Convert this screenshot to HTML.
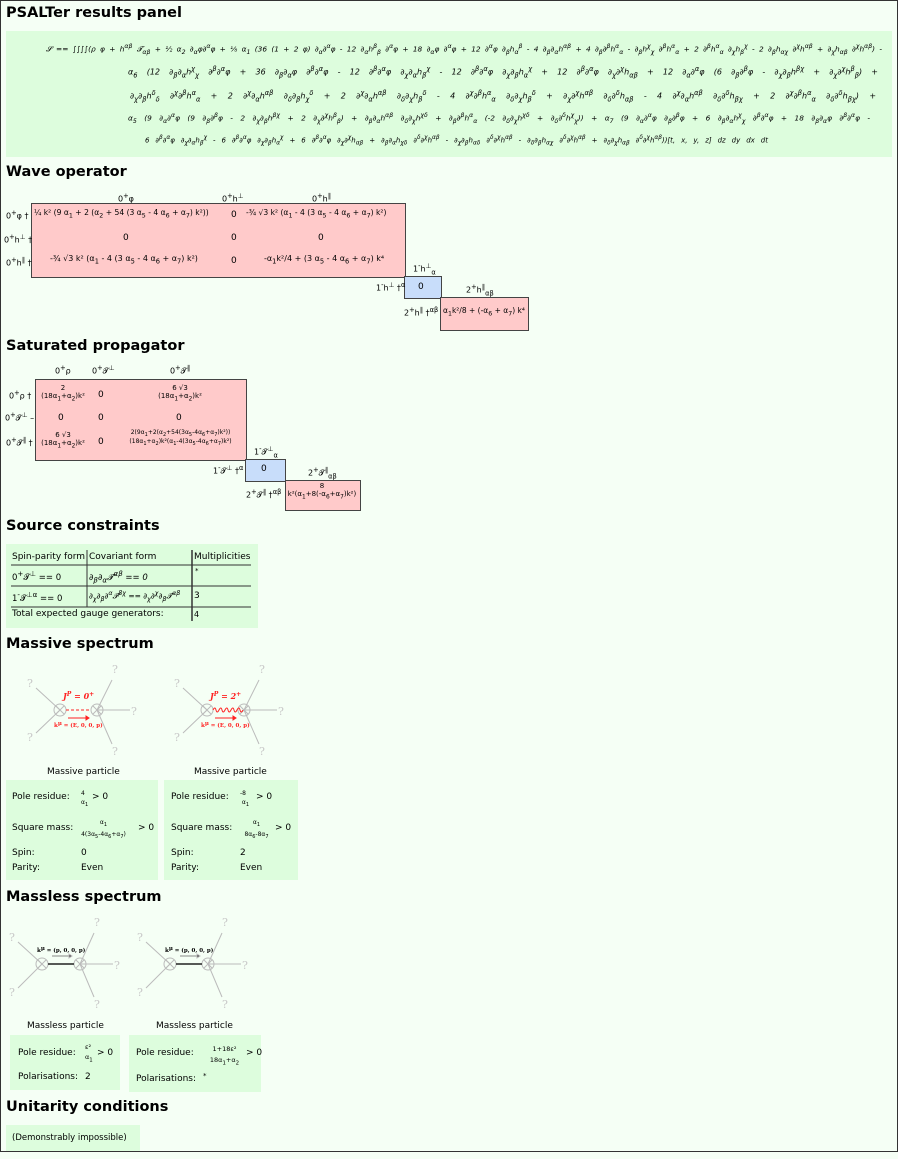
<!DOCTYPE html>
<html><head><meta charset="utf-8"><style>
body{margin:0;width:898px;height:1159px;background:#f5fff5;font-family:"DejaVu Sans","Liberation Sans",sans-serif;position:relative;overflow:hidden;color:#000}
.frame{position:absolute;left:0;top:0;width:896px;height:1150px;border:1px solid #333}
.h{position:absolute;left:6px;font-weight:bold;font-size:14.5px}
.g{position:absolute;background:#ddfddd}
.ab{position:absolute;white-space:nowrap}
.ln{position:absolute;font-size:8px;font-style:italic;text-align:justify;text-align-last:justify;height:14px;line-height:14px}
.pk{position:absolute;background:#ffcaca;border:1px solid #444}
.bl{position:absolute;background:#c8ddfa;border:1px solid #444}
.s{font-size:8px}
</style></head><body>
<div class="frame"></div>
<div class="h" style="top:5px">PSALTer results panel</div>
<div class="g" style="left:6px;top:31px;width:886px;height:126px"></div>
<div class="ln" style="left:46px;top:40px;width:836px;font-size:7.4px">𝓢 == ∫∫∫∫(ρ φ + h<sup>αβ</sup> 𝓣<sub>αβ</sub> + ½ α<sub>2</sub> ∂<sub>α</sub>φ∂<sup>α</sup>φ + ⅛ α<sub>1</sub> (36 (1 + 2 φ) ∂<sub>α</sub>∂<sup>α</sup>φ - 12 ∂<sub>α</sub>h<sup>β</sup><sub>β</sub> ∂<sup>α</sup>φ + 18 ∂<sub>α</sub>φ ∂<sup>α</sup>φ + 12 ∂<sup>α</sup>φ ∂<sub>β</sub>h<sub>α</sub><sup>β</sup> - 4 ∂<sub>β</sub>∂<sub>α</sub>h<sup>αβ</sup> + 4 ∂<sub>β</sub>∂<sup>β</sup>h<sup>α</sup><sub>α</sub> - ∂<sub>β</sub>h<sup>χ</sup><sub>χ</sub> ∂<sup>β</sup>h<sup>α</sup><sub>α</sub> + 2 ∂<sup>β</sup>h<sup>α</sup><sub>α</sub> ∂<sub>χ</sub>h<sub>β</sub><sup>χ</sup> - 2 ∂<sub>β</sub>h<sub>αχ</sub> ∂<sup>χ</sup>h<sup>αβ</sup> + ∂<sub>χ</sub>h<sub>αβ</sub> ∂<sup>χ</sup>h<sup>αβ</sup>) -</div>
<div class="ln" style="left:128px;top:62px;width:750px">α<sub>6</sub> (12 ∂<sub>β</sub>∂<sub>α</sub>h<sup>χ</sup><sub>χ</sub> ∂<sup>β</sup>∂<sup>α</sup>φ + 36 ∂<sub>β</sub>∂<sub>α</sub>φ ∂<sup>β</sup>∂<sup>α</sup>φ - 12 ∂<sup>β</sup>∂<sup>α</sup>φ ∂<sub>χ</sub>∂<sub>α</sub>h<sub>β</sub><sup>χ</sup> - 12 ∂<sup>β</sup>∂<sup>α</sup>φ ∂<sub>χ</sub>∂<sub>β</sub>h<sub>α</sub><sup>χ</sup> + 12 ∂<sup>β</sup>∂<sup>α</sup>φ ∂<sub>χ</sub>∂<sup>χ</sup>h<sub>αβ</sub> + 12 ∂<sub>α</sub>∂<sup>α</sup>φ (6 ∂<sub>β</sub>∂<sup>β</sup>φ - ∂<sub>χ</sub>∂<sub>β</sub>h<sup>βχ</sup> + ∂<sub>χ</sub>∂<sup>χ</sup>h<sup>β</sup><sub>β</sub>) +</div>
<div class="ln" style="left:130px;top:86px;width:746px">∂<sub>χ</sub>∂<sub>β</sub>h<sup>δ</sup><sub>δ</sub> ∂<sup>χ</sup>∂<sup>β</sup>h<sup>α</sup><sub>α</sub> + 2 ∂<sup>χ</sup>∂<sub>α</sub>h<sup>αβ</sup> ∂<sub>δ</sub>∂<sub>β</sub>h<sub>χ</sub><sup>δ</sup> + 2 ∂<sup>χ</sup>∂<sub>α</sub>h<sup>αβ</sup> ∂<sub>δ</sub>∂<sub>χ</sub>h<sub>β</sub><sup>δ</sup> - 4 ∂<sup>χ</sup>∂<sup>β</sup>h<sup>α</sup><sub>α</sub> ∂<sub>δ</sub>∂<sub>χ</sub>h<sub>β</sub><sup>δ</sup> + ∂<sub>χ</sub>∂<sup>χ</sup>h<sup>αβ</sup> ∂<sub>δ</sub>∂<sup>δ</sup>h<sub>αβ</sub> - 4 ∂<sup>χ</sup>∂<sub>α</sub>h<sup>αβ</sup> ∂<sub>δ</sub>∂<sup>δ</sup>h<sub>βχ</sub> + 2 ∂<sup>χ</sup>∂<sup>β</sup>h<sup>α</sup><sub>α</sub> ∂<sub>δ</sub>∂<sup>δ</sup>h<sub>βχ</sub>) +</div>
<div class="ln" style="left:128px;top:109px;width:742px;font-size:7.4px">α<sub>5</sub> (9 ∂<sub>α</sub>∂<sup>α</sup>φ (9 ∂<sub>β</sub>∂<sup>β</sup>φ - 2 ∂<sub>χ</sub>∂<sub>β</sub>h<sup>βχ</sup> + 2 ∂<sub>χ</sub>∂<sup>χ</sup>h<sup>β</sup><sub>β</sub>) + ∂<sub>β</sub>∂<sub>α</sub>h<sup>αβ</sup> ∂<sub>δ</sub>∂<sub>χ</sub>h<sup>χδ</sup> + ∂<sub>β</sub>∂<sup>β</sup>h<sup>α</sup><sub>α</sub> (-2 ∂<sub>δ</sub>∂<sub>χ</sub>h<sup>χδ</sup> + ∂<sub>δ</sub>∂<sup>δ</sup>h<sup>χ</sup><sub>χ</sub>)) + α<sub>7</sub> (9 ∂<sub>α</sub>∂<sup>α</sup>φ ∂<sub>β</sub>∂<sup>β</sup>φ + 6 ∂<sub>β</sub>∂<sub>α</sub>h<sup>χ</sup><sub>χ</sub> ∂<sup>β</sup>∂<sup>α</sup>φ + 18 ∂<sub>β</sub>∂<sub>α</sub>φ ∂<sup>β</sup>∂<sup>α</sup>φ -</div>
<div class="ln" style="left:145px;top:131px;width:623px;font-size:7px">6 ∂<sup>β</sup>∂<sup>α</sup>φ ∂<sub>χ</sub>∂<sub>α</sub>h<sub>β</sub><sup>χ</sup> - 6 ∂<sup>β</sup>∂<sup>α</sup>φ ∂<sub>χ</sub>∂<sub>β</sub>h<sub>α</sub><sup>χ</sup> + 6 ∂<sup>β</sup>∂<sup>α</sup>φ ∂<sub>χ</sub>∂<sup>χ</sup>h<sub>αβ</sub> + ∂<sub>β</sub>∂<sub>α</sub>h<sub>χδ</sub> ∂<sup>δ</sup>∂<sup>χ</sup>h<sup>αβ</sup> - ∂<sub>χ</sub>∂<sub>β</sub>h<sub>αδ</sub> ∂<sup>δ</sup>∂<sup>χ</sup>h<sup>αβ</sup> - ∂<sub>δ</sub>∂<sub>β</sub>h<sub>αχ</sub> ∂<sup>δ</sup>∂<sup>χ</sup>h<sup>αβ</sup> + ∂<sub>δ</sub>∂<sub>χ</sub>h<sub>αβ</sub> ∂<sup>δ</sup>∂<sup>χ</sup>h<sup>αβ</sup>))[t, x, y, z] dz dy dx dt</div>

<div class="h" style="top:164px">Wave operator</div>
<div class="pk" style="left:31px;top:203px;width:373px;height:73px"></div>
<div class="bl" style="left:404px;top:276px;width:36px;height:21px"></div>
<div class="pk" style="left:440px;top:297px;width:87px;height:32px"></div>
<div class="ab s" style="left:118px;top:192px">0<sup>+</sup>φ</div>
<div class="ab s" style="left:222px;top:192px">0<sup>+</sup>h<sup>⊥</sup></div>
<div class="ab s" style="left:312px;top:192px">0<sup>+</sup>h<sup>∥</sup></div>
<div class="ab s" style="left:6px;top:209px">0<sup>+</sup>φ †</div>
<div class="ab s" style="left:4px;top:233px">0<sup>+</sup>h<sup>⊥</sup> †</div>
<div class="ab s" style="left:6px;top:256px">0<sup>+</sup>h<sup>∥</sup> †</div>
<div class="ab" style="left:34px;top:208px;font-size:7.6px">¼ k² (9 α<sub>1</sub> + 2 (α<sub>2</sub> + 54 (3 α<sub>5</sub> - 4 α<sub>6</sub> + α<sub>7</sub>) k²))</div>
<div class="ab" style="left:231px;top:210px;font-size:9px">0</div>
<div class="ab" style="left:246px;top:208px;font-size:7.6px">-¾ √3 k² (α<sub>1</sub> - 4 (3 α<sub>5</sub> - 4 α<sub>6</sub> + α<sub>7</sub>) k²)</div>
<div class="ab" style="left:123px;top:233px;font-size:9px">0</div>
<div class="ab" style="left:231px;top:233px;font-size:9px">0</div>
<div class="ab" style="left:318px;top:233px;font-size:9px">0</div>
<div class="ab" style="left:50px;top:254px;font-size:8px">-¾ √3 k² (α<sub>1</sub> - 4 (3 α<sub>5</sub> - 4 α<sub>6</sub> + α<sub>7</sub>) k²)</div>
<div class="ab" style="left:231px;top:256px;font-size:9px">0</div>
<div class="ab" style="left:264px;top:254px;font-size:8px">-α<sub>1</sub>k²/4 + (3 α<sub>5</sub> - 4 α<sub>6</sub> + α<sub>7</sub>) k⁴</div>
<div class="ab s" style="left:413px;top:262px">1<sup>-</sup>h<sup>⊥</sup><sub>α</sub></div>
<div class="ab s" style="left:376px;top:281px">1<sup>-</sup>h<sup>⊥</sup> †<sup>α</sup></div>
<div class="ab" style="left:418px;top:282px;font-size:9px">0</div>
<div class="ab s" style="left:466px;top:283px">2<sup>+</sup>h<sup>∥</sup><sub>αβ</sub></div>
<div class="ab s" style="left:404px;top:306px">2<sup>+</sup>h<sup>∥</sup> †<sup>αβ</sup></div>
<div class="ab" style="left:443px;top:306px;font-size:7.5px">α<sub>1</sub>k²/8 + (-α<sub>6</sub> + α<sub>7</sub>) k⁴</div>

<div class="h" style="top:338px">Saturated propagator</div>
<div class="pk" style="left:35px;top:379px;width:210px;height:80px"></div>
<div class="bl" style="left:245px;top:459px;width:39px;height:21px"></div>
<div class="pk" style="left:285px;top:480px;width:74px;height:29px"></div>
<div class="ab s" style="left:55px;top:364px">0<sup>+</sup>ρ</div>
<div class="ab s" style="left:92px;top:364px">0<sup>+</sup>𝓣<sup>⊥</sup></div>
<div class="ab s" style="left:170px;top:364px">0<sup>+</sup>𝓣<sup>∥</sup></div>
<div class="ab s" style="left:9px;top:389px">0<sup>+</sup>ρ †</div>
<div class="ab s" style="left:5px;top:411px">0<sup>+</sup>𝓣<sup>⊥</sup> –</div>
<div class="ab s" style="left:6px;top:436px">0<sup>+</sup>𝓣<sup>∥</sup> †</div>
<div class="ab" style="left:40px;top:384px;font-size:7px;text-align:center;width:46px">2<br>(18α<sub>1</sub>+α<sub>2</sub>)k²</div>
<div class="ab" style="left:98px;top:390px;font-size:9px">0</div>
<div class="ab" style="left:155px;top:384px;font-size:7px;text-align:center;width:50px">6 √3<br>(18α<sub>1</sub>+α<sub>2</sub>)k²</div>
<div class="ab" style="left:58px;top:413px;font-size:9px">0</div>
<div class="ab" style="left:98px;top:413px;font-size:9px">0</div>
<div class="ab" style="left:176px;top:413px;font-size:9px">0</div>
<div class="ab" style="left:38px;top:431px;font-size:7px;text-align:center;width:50px">6 √3<br>(18α<sub>1</sub>+α<sub>2</sub>)k²</div>
<div class="ab" style="left:98px;top:437px;font-size:9px">0</div>
<div class="ab" style="left:118px;top:429px;font-size:6px;text-align:center;width:125px">2(9α<sub>1</sub>+2(α<sub>2</sub>+54(3α<sub>5</sub>-4α<sub>6</sub>+α<sub>7</sub>)k²))<br>(18α<sub>1</sub>+α<sub>2</sub>)k²(α<sub>1</sub>-4(3α<sub>5</sub>-4α<sub>6</sub>+α<sub>7</sub>)k²)</div>
<div class="ab s" style="left:254px;top:445px">1<sup>-</sup>𝓣<sup>⊥</sup><sub>α</sub></div>
<div class="ab s" style="left:213px;top:464px">1<sup>-</sup>𝓣<sup>⊥</sup> †<sup>α</sup></div>
<div class="ab" style="left:261px;top:464px;font-size:9px">0</div>
<div class="ab s" style="left:308px;top:466px">2<sup>+</sup>𝓣<sup>∥</sup><sub>αβ</sub></div>
<div class="ab s" style="left:246px;top:488px">2<sup>+</sup>𝓣<sup>∥</sup> †<sup>αβ</sup></div>
<div class="ab" style="left:286px;top:482px;font-size:7px;text-align:center;width:72px">8<br>k²(α<sub>1</sub>+8(-α<sub>6</sub>+α<sub>7</sub>)k²)</div>

<div class="h" style="top:518px">Source constraints</div>
<div class="g" style="left:6px;top:544px;width:252px;height:84px"></div>
<svg class="ab" style="left:0;top:0" width="898" height="1159">
<g stroke="#333" fill="none">
<line x1="11" y1="565" x2="251" y2="565"/><line x1="11" y1="586" x2="251" y2="586"/><line x1="11" y1="607" x2="251" y2="607"/>
<line x1="87" y1="550" x2="87" y2="607"/><line x1="192" y1="550" x2="192" y2="621" stroke-width="1.5"/>
<line x1="11" y1="815" x2="154" y2="815"/><line x1="11" y1="846" x2="154" y2="846"/><line x1="11" y1="861" x2="154" y2="861"/><line x1="78" y1="789" x2="78" y2="876"/>
<line x1="170" y1="815" x2="288" y2="815"/><line x1="170" y1="846" x2="288" y2="846"/><line x1="170" y1="861" x2="288" y2="861"/><line x1="238" y1="789" x2="238" y2="876"/>
<line x1="17" y1="1070" x2="112" y2="1070"/><line x1="82" y1="1042" x2="82" y2="1085"/>
<line x1="135" y1="1072" x2="254" y2="1072"/><line x1="200" y1="1043" x2="200" y2="1087"/>
</g>
<g>
<line x1="80" y1="804" x2="88" y2="804" stroke="#000" stroke-width=".6"/>
<line x1="80" y1="828" x2="126" y2="828" stroke="#000" stroke-width=".6"/>
<line x1="244" y1="804" x2="252" y2="804" stroke="#000" stroke-width=".6"/>
<line x1="240" y1="828" x2="272" y2="828" stroke="#000" stroke-width=".6"/>
<line x1="84" y1="1052" x2="94" y2="1052" stroke="#000" stroke-width=".6"/>
<line x1="203" y1="1054" x2="246" y2="1054" stroke="#000" stroke-width=".6"/>
</g>
<g stroke="#bbb" stroke-width="1" fill="none">
<line x1="60" y1="710" x2="36" y2="688"/><line x1="60" y1="710" x2="36" y2="733"/>
<line x1="97" y1="710" x2="112" y2="680"/><line x1="97" y1="710" x2="130" y2="710"/><line x1="97" y1="710" x2="112" y2="744"/>
<circle cx="60" cy="710" r="6"/><circle cx="97" cy="710" r="6"/>
<path d="M56 706l8 8M64 706l-8 8M93 706l8 8M101 706l-8 8"/>
<line x1="66" y1="710" x2="91" y2="710" stroke="#f22" stroke-dasharray="3,2"/>
<line x1="68" y1="718" x2="86" y2="718" stroke="#f22"/><path d="M86 716l3 2-3 2z" fill="#f22" stroke="#f22"/>
</g>
<g stroke="#bbb" stroke-width="1" fill="none">
<line x1="207" y1="710" x2="183" y2="688"/><line x1="207" y1="710" x2="183" y2="733"/>
<line x1="244" y1="710" x2="259" y2="680"/><line x1="244" y1="710" x2="277" y2="710"/><line x1="244" y1="710" x2="259" y2="744"/>
<circle cx="207" cy="710" r="6"/><circle cx="244" cy="710" r="6"/>
<path d="M203 706l8 8M211 706l-8 8M240 706l8 8M248 706l-8 8"/>
<path d="M213 710 q2 -4 3 0 t3 0 t3 0 t3 0 t3 0 t3 0 t3 0 t3 0 t3 0 t3 0" stroke="#f22"/>
<line x1="215" y1="718" x2="233" y2="718" stroke="#f22"/><path d="M233 716l3 2-3 2z" fill="#f22" stroke="#f22"/>
</g>
<g fill="#c8c8c8" font-size="11" font-family="DejaVu Serif">
<text x="27" y="687">?</text><text x="27" y="741">?</text><text x="112" y="673">?</text><text x="131" y="715">?</text><text x="112" y="755">?</text>
<text x="174" y="687">?</text><text x="174" y="741">?</text><text x="259" y="673">?</text><text x="278" y="715">?</text><text x="259" y="755">?</text>
</g>
<g fill="#f22" font-weight="bold" font-family="DejaVu Serif">
<text x="63" y="699" font-size="8" font-style="italic">J<tspan dy="-3" font-size="6">P</tspan><tspan dy="3"> = 0</tspan><tspan dy="-3" font-size="6">+</tspan></text>
<text x="54" y="727" font-size="5.5">k<tspan dy="-2">μ</tspan><tspan dy="2"> = (E, 0, 0, p)</tspan></text>
<text x="210" y="699" font-size="8" font-style="italic">J<tspan dy="-3" font-size="6">P</tspan><tspan dy="3"> = 2</tspan><tspan dy="-3" font-size="6">+</tspan></text>
<text x="201" y="727" font-size="5.5">k<tspan dy="-2">μ</tspan><tspan dy="2"> = (E, 0, 0, p)</tspan></text>
</g>
<g stroke="#bbb" fill="none">
<line x1="42" y1="964" x2="18" y2="942"/><line x1="42" y1="964" x2="18" y2="988"/>
<line x1="80" y1="964" x2="94" y2="933"/><line x1="80" y1="964" x2="113" y2="964"/><line x1="80" y1="964" x2="94" y2="997"/>
<circle cx="42" cy="964" r="6"/><circle cx="80" cy="964" r="6"/><path d="M38 960l8 8M46 960l-8 8M76 960l8 8M84 960l-8 8"/>
<line x1="48" y1="964" x2="74" y2="964" stroke="#222" stroke-width="1.5"/>
<line x1="52" y1="956" x2="69" y2="956" stroke="#888"/><path d="M69 954l3 2-3 2z" fill="#333"/>
<line x1="170" y1="964" x2="146" y2="942"/><line x1="170" y1="964" x2="146" y2="988"/>
<line x1="208" y1="964" x2="222" y2="933"/><line x1="208" y1="964" x2="241" y2="964"/><line x1="208" y1="964" x2="222" y2="997"/>
<circle cx="170" cy="964" r="6"/><circle cx="208" cy="964" r="6"/><path d="M166 960l8 8M174 960l-8 8M204 960l8 8M212 960l-8 8"/>
<line x1="176" y1="964" x2="202" y2="964" stroke="#222" stroke-width="1.5"/>
<line x1="180" y1="956" x2="197" y2="956" stroke="#888"/><path d="M197 954l3 2-3 2z" fill="#333"/>
</g>
<g fill="#c8c8c8" font-size="11" font-family="DejaVu Serif">
<text x="9" y="941">?</text><text x="9" y="996">?</text><text x="94" y="926">?</text><text x="114" y="969">?</text><text x="94" y="1008">?</text>
<text x="137" y="941">?</text><text x="137" y="996">?</text><text x="222" y="926">?</text><text x="242" y="969">?</text><text x="222" y="1008">?</text>
</g>
<g font-size="5.5" font-weight="bold" font-family="DejaVu Serif" fill="#000">
<text x="37" y="952">k<tspan dy="-2">μ</tspan><tspan dy="2"> = (p, 0, 0, p)</tspan></text>
<text x="165" y="952">k<tspan dy="-2">μ</tspan><tspan dy="2"> = (p, 0, 0, p)</tspan></text>
</g>
</svg>
<div class="ab" style="left:12px;top:552px;font-size:9px">Spin-parity form</div>
<div class="ab" style="left:89px;top:552px;font-size:9px">Covariant form</div>
<div class="ab" style="left:194px;top:552px;font-size:9px">Multiplicities</div>
<div class="ab" style="left:12px;top:569px;font-size:8.5px">0<sup>+</sup>𝓣<sup>⊥</sup> == 0</div>
<div class="ab" style="left:89px;top:569px;font-size:8.5px;font-style:italic">∂<sub>β</sub>∂<sub>α</sub>𝓣<sup>αβ</sup> == 0</div>
<div class="ab" style="left:195px;top:567px;font-size:7px">*</div>
<div class="ab" style="left:12px;top:590px;font-size:8.5px">1<sup>-</sup>𝓣<sup>⊥α</sup> == 0</div>
<div class="ab" style="left:89px;top:590px;font-size:7.5px;font-style:italic">∂<sub>χ</sub>∂<sub>β</sub>∂<sup>α</sup>𝓣<sup>βχ</sup> == ∂<sub>χ</sub>∂<sup>χ</sup>∂<sub>β</sub>𝓣<sup>αβ</sup></div>
<div class="ab" style="left:194px;top:591px;font-size:9px">3</div>
<div class="ab" style="left:12px;top:609px;font-size:9px">Total expected gauge generators:</div>
<div class="ab" style="left:194px;top:610px;font-size:8px">4</div>

<div class="h" style="top:636px">Massive spectrum</div>
<div class="ab" style="left:47px;top:767px;font-size:9px">Massive particle</div>
<div class="ab" style="left:194px;top:767px;font-size:9px">Massive particle</div>
<div class="g" style="left:6px;top:780px;width:152px;height:100px"></div>
<div class="g" style="left:164px;top:780px;width:134px;height:100px"></div>
<div class="ab" style="left:12px;top:792px;font-size:9px">Pole residue:</div>
<div class="ab" style="left:81px;top:789px;font-size:6px;line-height:9px">4<br>α<sub>1</sub></div><div class="ab" style="left:92px;top:792px;font-size:9px">&gt; 0</div>
<div class="ab" style="left:12px;top:823px;font-size:9px">Square mass:</div>
<div class="ab" style="left:80px;top:818px;font-size:6px;line-height:10px;width:47px;text-align:center">α<sub>1</sub><br>4(3α<sub>5</sub>-4α<sub>6</sub>+α<sub>7</sub>)</div><div class="ab" style="left:138px;top:823px;font-size:9px">&gt; 0</div>
<div class="ab" style="left:12px;top:848px;font-size:9px">Spin:</div><div class="ab" style="left:81px;top:848px;font-size:9px">0</div>
<div class="ab" style="left:12px;top:863px;font-size:9px">Parity:</div><div class="ab" style="left:81px;top:863px;font-size:9px">Even</div>
<div class="ab" style="left:171px;top:792px;font-size:9px">Pole residue:</div>
<div class="ab" style="left:240px;top:789px;font-size:6px;line-height:9px">-8<br>&nbsp;α<sub>1</sub></div><div class="ab" style="left:256px;top:792px;font-size:9px">&gt; 0</div>
<div class="ab" style="left:171px;top:823px;font-size:9px">Square mass:</div>
<div class="ab" style="left:240px;top:818px;font-size:6px;line-height:10px;width:33px;text-align:center">α<sub>1</sub><br>8α<sub>6</sub>-8α<sub>7</sub></div><div class="ab" style="left:275px;top:823px;font-size:9px">&gt; 0</div>
<div class="ab" style="left:171px;top:848px;font-size:9px">Spin:</div><div class="ab" style="left:240px;top:848px;font-size:9px">2</div>
<div class="ab" style="left:171px;top:863px;font-size:9px">Parity:</div><div class="ab" style="left:240px;top:863px;font-size:9px">Even</div>

<div class="h" style="top:889px">Massless spectrum</div>
<div class="ab" style="left:27px;top:1021px;font-size:9px">Massless particle</div>
<div class="ab" style="left:156px;top:1021px;font-size:9px">Massless particle</div>
<div class="g" style="left:10px;top:1035px;width:110px;height:55px"></div>
<div class="g" style="left:129px;top:1035px;width:132px;height:57px"></div>
<div class="ab" style="left:18px;top:1048px;font-size:9px">Pole residue:</div>
<div class="ab" style="left:85px;top:1042px;font-size:6.5px;line-height:10px">ε²<br>α<sub>1</sub></div><div class="ab" style="left:97px;top:1048px;font-size:9px">&gt; 0</div>
<div class="ab" style="left:18px;top:1072px;font-size:9px">Polarisations:</div><div class="ab" style="left:85px;top:1072px;font-size:9px">2</div>
<div class="ab" style="left:136px;top:1048px;font-size:9px">Pole residue:</div>
<div class="ab" style="left:203px;top:1044px;font-size:6.5px;line-height:11px;width:43px;text-align:center">1+18ε²<br>18α<sub>1</sub>+α<sub>2</sub></div><div class="ab" style="left:246px;top:1048px;font-size:9px">&gt; 0</div>
<div class="ab" style="left:136px;top:1074px;font-size:9px">Polarisations:</div><div class="ab" style="left:203px;top:1072px;font-size:7px">*</div>

<div class="h" style="top:1099px">Unitarity conditions</div>
<div class="g" style="left:6px;top:1125px;width:134px;height:26px"></div>
<div class="ab" style="left:12px;top:1133px;font-size:8.5px">(Demonstrably impossible)</div>
</body></html>
